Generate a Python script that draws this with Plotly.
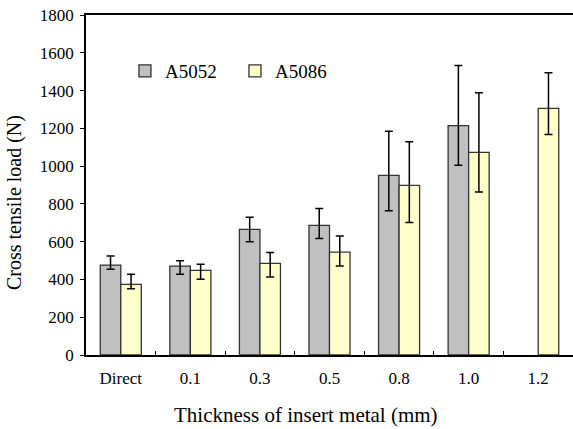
import plotly.graph_objects as go

categories = ["Direct", "0.1", "0.3", "0.5", "0.8", "1.0", "1.2"]
a5052 = [476, 470, 665, 686, 951, 1214, None]
a5052_hi = [524, 499, 729, 775, 1184, 1532, None]
a5052_lo = [454, 427, 600, 617, 764, 1004, None]
a5086 = [374, 448, 485, 545, 898, 1073, 1306]
a5086_hi = [427, 480, 543, 630, 1129, 1389, 1494]
a5086_lo = [351, 401, 413, 471, 702, 863, 1168]

def plus(v, hi):
    return [None if a is None else b - a for a, b in zip(v, hi)]

def minus(v, lo):
    return [None if a is None else a - b for a, b in zip(v, lo)]

font = "Liberation Serif"

fig = go.Figure()
fig.add_trace(go.Bar(
    x=categories, y=a5052, name="A5052",
    marker=dict(color="#C0C0C0", line=dict(color="#333333", width=1.3)),
    error_y=dict(type="data", symmetric=False, array=plus(a5052, a5052_hi),
                 arrayminus=minus(a5052, a5052_lo), color="black", thickness=1.5, width=4),
))
fig.add_trace(go.Bar(
    x=categories, y=a5086, name="A5086",
    marker=dict(color="#FFFFCC", line=dict(color="#333333", width=1.3)),
    error_y=dict(type="data", symmetric=False, array=plus(a5086, a5086_hi),
                 arrayminus=minus(a5086, a5086_lo), color="black", thickness=1.5, width=4),
))

fig.update_layout(
    width=573, height=429,
    margin=dict(l=86, r=0, t=15, b=74),
    paper_bgcolor="white", plot_bgcolor="white",
    barmode="group", bargap=0.41, bargroupgap=0,
    font=dict(family=font, size=17, color="black"),
    showlegend=True,
    legend=dict(orientation="h", x=0.08, y=0.835, xanchor="left", yanchor="middle",
                font=dict(family=font, size=19, color="black"), bgcolor="rgba(0,0,0,0)",
                itemwidth=30, entrywidth=65, traceorder="normal"),
    annotations=[
        dict(text="Thickness of insert metal (mm)", xref="paper", yref="paper",
             x=(306 - 86) / 487, y=(355 - 415) / 340, xanchor="center", yanchor="middle",
             showarrow=False, font=dict(family=font, size=21, color="black")),
        dict(text="Cross tensile load (N)", xref="paper", yref="paper",
             x=(14 - 86) / 487, y=(355 - 203) / 340, xanchor="center", yanchor="middle",
             textangle=-90, showarrow=False, font=dict(family=font, size=20, color="black")),
    ],
)
fig.update_xaxes(
    showline=True, linecolor="black", linewidth=1.5, mirror=True,
    ticks="inside", ticklen=4, tickcolor="black", tickson="boundaries",
    showgrid=False, tickfont=dict(family=font, size=17, color="black"),
    ticklabelstandoff=7,
)
fig.update_yaxes(
    range=[0, 1800], dtick=200, showline=True, linecolor="black", linewidth=1.5,
    ticks="outside", ticklen=4, tickcolor="black", showgrid=False, zeroline=False,
    tickfont=dict(family=font, size=17, color="black"), ticklabelstandoff=3,
)

fig.write_html("out.html")
